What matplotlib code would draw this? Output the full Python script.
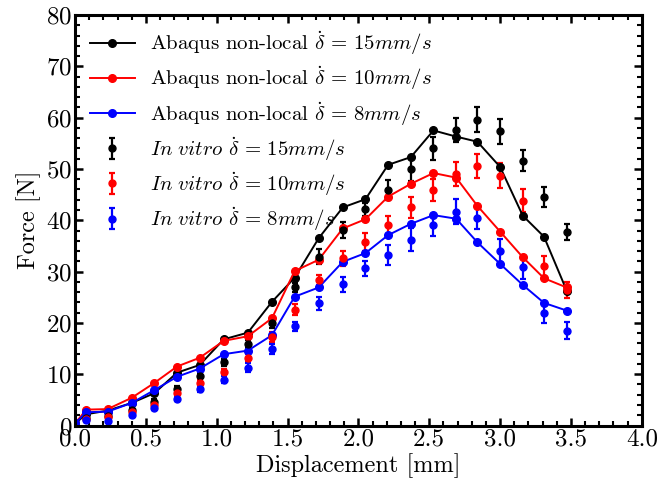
import numpy as np
import matplotlib
matplotlib.use("Agg")
import matplotlib.pyplot as plt

plt.rcParams['font.family'] = ['cmr10']
plt.rcParams['mathtext.fontset'] = 'cm'
plt.rcParams['axes.formatter.use_mathtext'] = True

# Displacement positions [mm]
disp = [0.0, 0.08, 0.23, 0.40, 0.56, 0.72, 0.88, 1.05, 1.22, 1.39, 1.55, 1.72,
        1.89, 2.05, 2.21, 2.37, 2.53, 2.69, 2.84, 3.00, 3.16, 3.31, 3.47]

# Abaqus non-local model force [N]
abaqus_15 = [0.4, 2.2, 2.9, 4.4, 6.3, 10.3, 11.8, 16.8, 18.1, 24.1, 28.8, 36.5,
             42.5, 44.1, 50.8, 52.3, 57.5, 56.3, 55.3, 50.4, 40.9, 36.8, 26.3]
abaqus_10 = [0.4, 3.1, 3.2, 5.4, 8.3, 11.5, 13.2, 16.5, 17.4, 20.9, 30.1, 32.3,
             38.4, 40.2, 44.6, 47.1, 49.2, 48.3, 42.8, 37.8, 32.8, 28.7, 26.9]
abaqus_8 = [0.4, 2.6, 2.7, 4.4, 6.9, 9.5, 11.1, 13.9, 14.6, 17.6, 25.1, 26.9,
            31.9, 33.6, 37.1, 39.3, 41.0, 40.3, 35.7, 31.5, 27.4, 23.9, 22.4]

# In vitro measurements [N] and error bars
exp_disp = disp[1:]
vitro_15 = [1.5, 1.8, 3.0, 4.6, 7.2, 9.7, 12.3, 15.9, 20.0, 26.9, 32.9,
            38.1, 42.1, 45.9, 49.9, 54.0, 57.6, 59.6, 57.3, 51.6, 44.5, 37.7]
vitro_15_err = [0.3, 0.3, 0.4, 0.5, 0.5, 0.6, 0.7, 0.8, 1.0, 0.8, 1.4,
                1.5, 1.3, 2.0, 2.3, 2.2, 2.3, 2.4, 2.4, 2.0, 1.9, 1.6]
vitro_10 = [1.3, 1.6, 2.7, 4.0, 6.3, 8.3, 10.4, 13.1, 17.3, 22.6, 28.4,
            32.6, 35.8, 39.1, 42.5, 45.9, 49.0, 50.6, 48.7, 43.8, 31.1, 26.4]
vitro_10_err = [0.3, 0.3, 0.4, 0.5, 0.5, 0.6, 0.7, 0.8, 1.0, 1.1, 1.0,
                1.5, 1.8, 1.7, 2.1, 2.1, 2.4, 2.4, 2.4, 2.2, 1.9, 1.6]
vitro_8 = [1.0, 0.9, 2.0, 3.5, 5.2, 7.1, 8.9, 11.3, 14.9, 19.3, 23.8,
           27.5, 30.6, 33.2, 36.2, 39.1, 41.7, 40.5, 34.1, 30.8, 21.9, 18.5]
vitro_8_err = [0.3, 0.3, 0.4, 0.5, 0.5, 0.6, 0.7, 0.8, 1.0, 0.9, 1.3,
               1.5, 1.5, 1.9, 2.2, 2.1, 2.4, 2.3, 2.3, 2.2, 1.9, 1.6]

fig = plt.figure(figsize=(6.72, 4.83), dpi=100)
ax = fig.add_axes([0.1116, 0.119, 0.8434, 0.85])

colors = ['black', 'red', 'blue']
rates = ['15', '10', '8']

exp_handles = []
for y, err, c, r in zip([vitro_15, vitro_10, vitro_8],
                        [vitro_15_err, vitro_10_err, vitro_8_err], colors, rates):
    h = ax.errorbar(exp_disp, y, yerr=err, fmt='o', color=c, ms=5, elinewidth=1.6,
                    capsize=2.2, capthick=1.6,
                    label=r'$\mathit{In\ vitro}\ \dot{\delta}\,=\,' + r + r'mm/s$')
    exp_handles.append(h)

model_handles = []
for y, c, r in zip([abaqus_15, abaqus_10, abaqus_8], colors, rates):
    h, = ax.plot(disp, y, '-o', color=c, lw=1.4, ms=5.5,
                 label=r'Abaqus non-local $\dot{\delta}\,=\,' + r + r'mm/s$')
    model_handles.append(h)

ax.set_xlim(0, 4.0)
ax.set_ylim(0, 80)
ax.set_xticks(np.arange(0, 4.01, 0.5))
ax.set_yticks(np.arange(0, 81, 10))
ax.set_xticks(np.arange(0, 4.01, 0.1), minor=True)
ax.set_yticks(np.arange(0, 81, 2), minor=True)
ax.xaxis.set_major_formatter(matplotlib.ticker.FormatStrFormatter('%.1f'))
ax.tick_params(which='both', direction='in', top=True, right=True, labelsize=18, pad=2)
ax.tick_params(which='major', length=6, width=1.8)
ax.tick_params(which='minor', length=3.5, width=1.5)
for s in ax.spines.values():
    s.set_linewidth(2.2)

ax.set_xlabel('Displacement [mm]', fontsize=17.5, labelpad=2)
ax.set_ylabel('Force [N]', fontsize=17.5, labelpad=4)

ax.legend(model_handles + exp_handles,
          [h.get_label() for h in model_handles + exp_handles],
          loc='upper left', frameon=False, fontsize=15, handlelength=2.2,
          labelspacing=0.35, borderaxespad=0.3, handletextpad=0.7)

plt.savefig('out.png', dpi=100)
